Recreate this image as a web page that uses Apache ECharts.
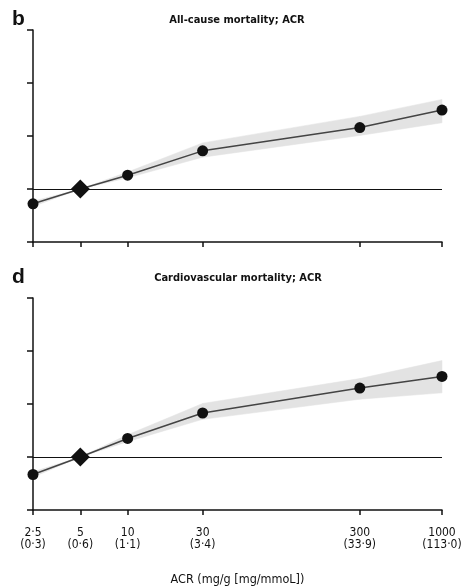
<!DOCTYPE html>
<html>
<head>
<meta charset="utf-8">
<script src="https://cdn.jsdelivr.net/npm/echarts@6/dist/echarts.min.js"></script>
<style>
  html, body { margin: 0; padding: 0; background: #fff; }
  #chart { width: 461px; height: 586px; }
</style>
</head>
<body>
<div id="chart"></div>
<script>
    // ACR categories (log-spaced positions on the x axis)
    const acrValues = [2.5, 5, 10, 30, 300, 1000];
    const acrLabels = ['2·5', '5', '10', '30', '300', '1000'];
    const mmolLabels = ['(0·3)', '(0·6)', '(1·1)', '(3·4)', '(33·9)', '(113·0)'];
    const refIndex = 1; // ACR 5 is the reference (diamond)

    // panel b: all-cause mortality (log hazard ratio, in tick units)
    const allCauseEst = [-0.28, 0, 0.26, 0.72, 1.16, 1.49];
    const allCauseLow = [-0.33, 0, 0.21, 0.60, 1.01, 1.25];
    const allCauseHigh = [-0.23, 0, 0.32, 0.87, 1.37, 1.69];

    // panel d: cardiovascular mortality
    const cvEst = [-0.33, 0, 0.35, 0.83, 1.30, 1.52];
    const cvLow = [-0.38, 0, 0.29, 0.71, 1.09, 1.21];
    const cvHigh = [-0.28, 0, 0.42, 1.01, 1.48, 1.82];

    const yTicks = [-1, 0, 1, 2, 3];

    const xPos = acrValues.map(v => Math.log10(v));
    const narrow = "'Liberation Sans Narrow', 'DejaVu Sans Condensed', 'Liberation Sans', sans-serif";

    function labelFor(v) {
        let i = xPos.findIndex(p => Math.abs(p - v) < 1e-6);
        if (i < 0) return '';
        return acrLabels[i] + '\n' + mmolLabels[i];
    }

    function xAxisFor(gridIndex, showLabels) {
        return {
            type: 'value',
            gridIndex: gridIndex,
            min: xPos[0],
            max: xPos[xPos.length - 1],
            axisLine: { show: true, onZero: false, lineStyle: { color: '#111', width: 1.5 } },
            axisTick: { show: true, customValues: xPos, length: 5, lineStyle: { color: '#111', width: 1.5 } },
            axisLabel: {
                show: showLabels,
                customValues: xPos,
                formatter: labelFor,
                color: '#111',
                fontFamily: narrow,
                fontSize: 12,
                lineHeight: 12,
                margin: 17
            },
            splitLine: { show: false },
            name: showLabels ? 'ACR (mg/g [mg/mmoL])' : '',
            nameLocation: 'middle',
            nameGap: 63,
            nameTextStyle: { color: '#111', fontFamily: narrow, fontSize: 12.5 }
        };
    }

    function yAxisFor(gridIndex) {
        return {
            type: 'value',
            gridIndex: gridIndex,
            min: yTicks[0],
            max: yTicks[yTicks.length - 1],
            interval: 1,
            axisLine: { show: true, onZero: false, lineStyle: { color: '#111', width: 1.5 } },
            axisTick: { show: true, length: 6, lineStyle: { color: '#111', width: 1.5 } },
            axisLabel: { show: false },
            splitLine: { show: false }
        };
    }

    function seriesFor(idx, est, low, high) {
        // confidence band: one quad between each pair of neighbouring points
        let bandData = xPos.map((x, i) => [x, low[i], high[i]]);
        let estData = xPos.map((x, i) => {
            if (i === refIndex) {
                return { value: [x, est[i]], symbol: 'diamond', symbolSize: [19, 19] };
            }
            return [x, est[i]];
        });
        return [
            {
                type: 'custom', xAxisIndex: idx, yAxisIndex: idx,
                data: bandData, silent: true, z: 1,
                encode: { x: 0, y: [1, 2] },
                renderItem: function (params, api) {
                    let i = params.dataIndex;
                    if (i === 0) return;
                    let p = bandData[i - 1];
                    let pts = [
                        api.coord([p[0], p[2]]),
                        api.coord([api.value(0), api.value(2)]),
                        api.coord([api.value(0), api.value(1)]),
                        api.coord([p[0], p[1]])
                    ];
                    return {
                        type: 'polygon',
                        shape: { points: pts },
                        style: { fill: '#e3e3e3', stroke: '#e3e3e3', lineWidth: 0.5 }
                    };
                }
            },
            {
                type: 'line', xAxisIndex: idx, yAxisIndex: idx,
                data: estData,
                symbol: 'circle', symbolSize: 11,
                itemStyle: { color: '#111' },
                lineStyle: { color: '#444', width: 1.5 },
                z: 5,
                markLine: {
                    silent: true,
                    symbol: ['none', 'none'],
                    label: { show: false },
                    lineStyle: { color: '#111', width: 1.2, type: 'solid' },
                    data: [{ yAxis: 0 }]
                }
            }
        ];
    }

    let chart = echarts.init(document.getElementById('chart'));
    chart.setOption({
        backgroundColor: '#fff',
        animation: false,
        grid: [
            { left: 33, top: 30, width: 409, height: 212, outerBoundsMode: 'none' },
            { left: 33, top: 298, width: 409, height: 212, outerBoundsMode: 'none' }
        ],
        xAxis: [xAxisFor(0, false), xAxisFor(1, true)],
        yAxis: [yAxisFor(0), yAxisFor(1)],
        graphic: [
            { type: 'text', left: 12, top: 9, style: { text: 'b', font: 'bold 21px "Liberation Sans", sans-serif', fill: '#111' } },
            { type: 'text', left: 12, top: 267, style: { text: 'd', font: 'bold 21px "Liberation Sans", sans-serif', fill: '#111' } },
            { type: 'text', x: 237, y: 20, style: { text: 'All-cause mortality; ACR', font: 'bold 11px ' + narrow, fill: '#111', align: 'center', verticalAlign: 'middle' } },
            { type: 'text', x: 238, y: 278, style: { text: 'Cardiovascular mortality; ACR', font: 'bold 11px ' + narrow, fill: '#111', align: 'center', verticalAlign: 'middle' } }
        ],
        series: [].concat(
            seriesFor(0, allCauseEst, allCauseLow, allCauseHigh),
            seriesFor(1, cvEst, cvLow, cvHigh)
        )
    });
</script>
</body>
</html>
